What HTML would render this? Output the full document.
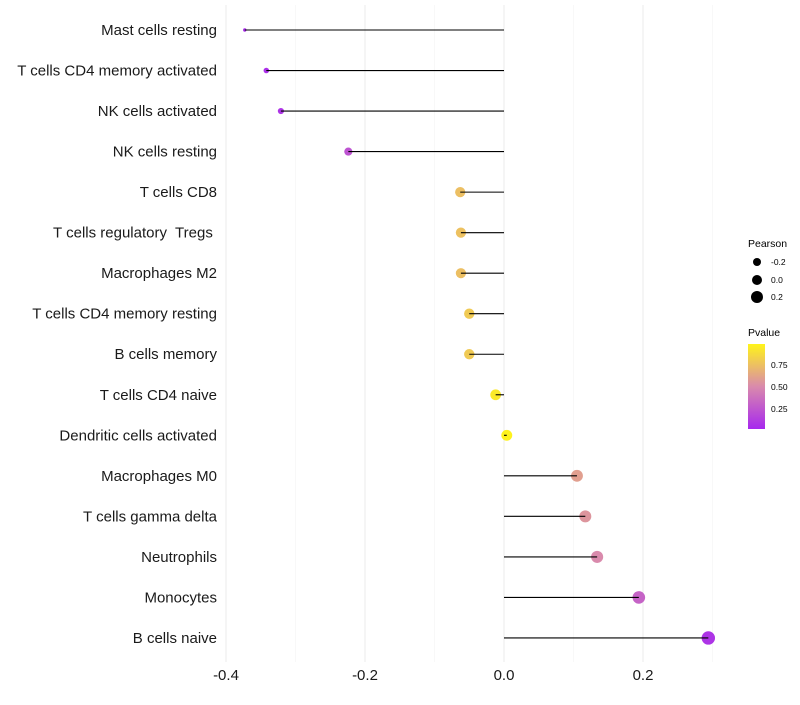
<!DOCTYPE html>
<html><head><meta charset="utf-8"><style>
body{margin:0;background:#fff;font-family:"Liberation Sans",sans-serif}
text{white-space:pre}
</style></head><body>
<svg id="chart" width="800" height="700" xmlns="http://www.w3.org/2000/svg">
<defs><linearGradient id="pg" x1="0" y1="1" x2="0" y2="0">
<stop offset="0" stop-color="#a728ee"/><stop offset="0.5" stop-color="#d98aac"/><stop offset="1" stop-color="#fff41a"/>
</linearGradient></defs>
<g id="grid"></g><g id="dots"></g><g id="marks"></g><g id="labels" fill="#1a1a1a"></g>
<g font-size="10">
<text x="748" y="247" font-size="10.5">Pearson</text>
<circle cx="757" cy="262" r="4"/><text x="771" y="265" font-size="8.5">-0.2</text>
<circle cx="757" cy="280" r="5"/><text x="771" y="283" font-size="8.5">0.0</text>
<circle cx="757" cy="297" r="6"/><text x="771" y="300" font-size="8.5">0.2</text>
<text x="748" y="336" font-size="10.5">Pvalue</text>
<rect x="748" y="344" width="17" height="85" fill="url(#pg)"/>
<text x="771" y="368" font-size="8.5">0.75</text>
<text x="771" y="390" font-size="8.5">0.50</text>
<text x="771" y="412" font-size="8.5">0.25</text>
</g>
</svg>
<script>
const categories=["Mast cells resting","T cells CD4 memory activated","NK cells activated","NK cells resting","T cells CD8","T cells regulatory  Tregs ","Macrophages M2","T cells CD4 memory resting","B cells memory","T cells CD4 naive","Dendritic cells activated","Macrophages M0","T cells gamma delta","Neutrophils","Monocytes","B cells naive"];
const pearson=[-0.373,-0.342,-0.321,-0.224,-0.063,-0.062,-0.062,-0.050,-0.050,-0.012,0.004,0.105,0.117,0.134,0.194,0.294];
const pvalues=[0.02,0.04,0.06,0.22,0.75,0.76,0.75,0.8,0.8,0.95,0.99,0.6,0.55,0.5,0.3,0.06];
const xTicks=[-0.4,-0.2,0.0,0.2];
const xTickLabels=["-0.4","-0.2","0.0","0.2"];
const NS="http://www.w3.org/2000/svg";
const x=v=>504+v*695;
const y=i=>30+i*40.53;
const pmin=Math.min(...pearson),pmax=Math.max(...pearson);
const rad=v=>1.7+5*Math.sqrt((v-pmin)/(pmax-pmin));
function color(p){const s=[[0,[167,40,238]],[0.5,[217,138,172]],[1,[255,244,26]]];
 let a=p<=0.5?s[0]:s[1],b=p<=0.5?s[1]:s[2];const t=(p-a[0])/(b[0]-a[0]);
 return "rgb("+a[1].map((c,k)=>Math.round(c+(b[1][k]-c)*t)).join(",")+")";}
function mk(tag,attrs,parent){const e=document.createElementNS(NS,tag);for(const k in attrs)e.setAttribute(k,attrs[k]);parent.appendChild(e);return e;}
const grid=document.getElementById('grid'),marks=document.getElementById('marks'),dots=document.getElementById('dots'),labels=document.getElementById('labels');
[-0.3,-0.1,0.1,0.3].forEach(v=>{const l=mk('line',{x1:x(v),x2:x(v),y1:5,y2:662,stroke:'#f3f3f3','stroke-width':0.6},grid);

});
xTicks.forEach((v,i)=>{const l=mk('line',{x1:x(v),x2:x(v),y1:5,y2:662,stroke:'#ebebeb','stroke-width':1},grid);


const t=mk('text',{x:x(v),y:680,'text-anchor':'middle','font-size':15},labels);t.textContent=xTickLabels[i];

});
categories.forEach((c,i)=>{
const t=mk('text',{x:217,y:y(i)+5,'text-anchor':'end','font-size':15},labels);t.textContent=c;


const d=mk('circle',{cx:x(pearson[i]),cy:y(i),r:rad(pearson[i]),fill:color(pvalues[i])},dots);


const l=mk('line',{x1:x(0),x2:x(pearson[i]),y1:y(i),y2:y(i),stroke:'#000','stroke-width':1.1},marks);

});
</script>
</body></html>
